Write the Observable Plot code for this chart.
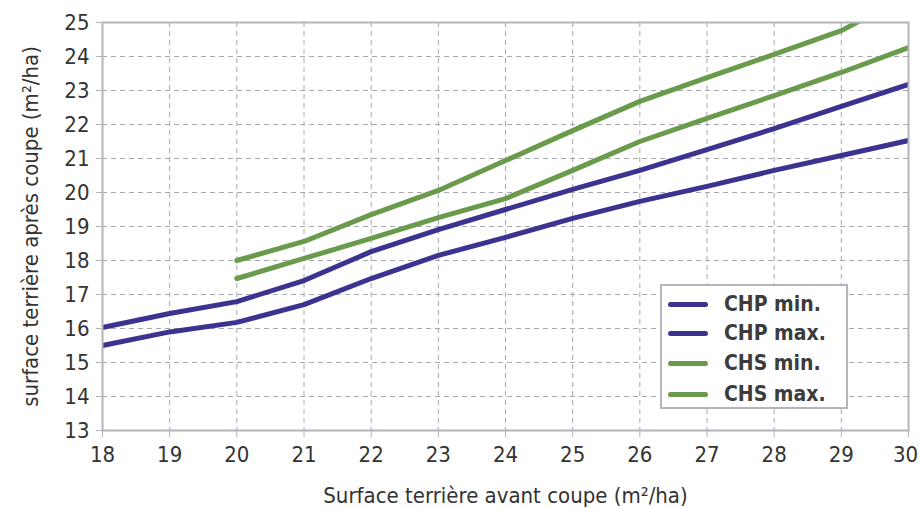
<!DOCTYPE html>
<html>
<head>
<meta charset="utf-8">
<script src="https://cdn.jsdelivr.net/npm/d3@7"></script>
<script src="https://cdn.jsdelivr.net/npm/@observablehq/plot@0.6"></script>
<style>
  html, body { margin: 0; padding: 0; background: #fff; }
  #wrap { position: relative; width: 919px; height: 508px; }
  #legend {
    position: absolute; left: 660px; top: 284px; width: 188px; height: 125px;
    border: 2px solid #b4b4bc; background: #fff; box-sizing: border-box;
    font-family: "DejaVu Sans Condensed", "Roboto", sans-serif;
    font-weight: bold; font-size: 21px; color: #3c3c3c;
  }
  .item { position: absolute; left: 6px; height: 24px; display: flex; align-items: center; }
  .sw { width: 40px; height: 5px; border-radius: 3px; margin-right: 16px; }
</style>
</head>
<body>
<div id="wrap"></div>
<script>
const xValues = [18, 19, 20, 21, 22, 23, 24, 25, 26, 27, 28, 29, 30];
const chpMin = [15.5, 15.9, 16.18, 16.7, 17.47, 18.15, 18.68, 19.24, 19.74, 20.18, 20.65, 21.09, 21.53];
const chpMax = [16.03, 16.44, 16.79, 17.41, 18.26, 18.91, 19.5, 20.09, 20.65, 21.26, 21.88, 22.53, 23.18];
const chsX = [20, 21, 22, 23, 24, 25, 26, 27, 28, 29, 30];
const chsMin = [17.47, 18.06, 18.65, 19.26, 19.82, 20.65, 21.5, 22.18, 22.85, 23.53, 24.26];
const chsMax = [18.0, 18.56, 19.35, 20.06, 20.94, 21.82, 22.68, 23.38, 24.06, 24.76, 25.8];
const seriesNames = ["CHP min.", "CHP max.", "CHS min.", "CHS max."];
const seriesColors = ["#3b338f", "#3b338f", "#6a9a4b", "#6a9a4b"];
const yTicks = [13, 14, 15, 16, 17, 18, 19, 20, 21, 22, 23, 24, 25];

const rows = [];
xValues.forEach((x, i) => {
  rows.push({x, y: chpMin[i], s: seriesNames[0]});
  rows.push({x, y: chpMax[i], s: seriesNames[1]});
});
chsX.forEach((x, i) => {
  rows.push({x, y: chsMin[i], s: seriesNames[2]});
  rows.push({x, y: chsMax[i], s: seriesNames[3]});
});

const font = '"DejaVu Sans Condensed", "Roboto", sans-serif';
const gridStyle = {stroke: "#a8a8b0", strokeOpacity: 1, strokeDasharray: "5,4", strokeWidth: 1};

const chart = Plot.plot({
  width: 919,
  height: 508,
  marginLeft: 102,
  marginRight: 11,
  marginTop: 22,
  marginBottom: 78,
  style: {fontFamily: font, fontSize: "20px", color: "#333", background: "#fff"},
  x: {domain: [18, 30], ticks: xValues, label: null},
  y: {domain: [13, 25], ticks: yTicks, label: null},
  color: {domain: seriesNames, range: seriesColors},
  marks: [
    Plot.gridX(xValues.slice(1, -1), gridStyle),
    Plot.gridY(yTicks.slice(1, -1), gridStyle),
    Plot.line(rows, {x: "x", y: "y", z: "s", stroke: "s", strokeWidth: 5, clip: true, strokeLinejoin: "round"}),
    Plot.frame({stroke: "#b4b4bc", strokeWidth: 2}),
    Plot.axisX({ticks: xValues, tickSize: 7, tickPadding: 9, stroke: "#b4b4bc", fill: "#333", fontSize: 20,
      label: "Surface terrière avant coupe (m²/ha)", labelAnchor: "center", labelArrow: "none", labelOffset: 72}),
    Plot.axisY({ticks: yTicks, tickSize: 6, tickPadding: 7, stroke: "#b4b4bc", fill: "#333", fontSize: 20,
      label: "surface terrière après coupe (m²/ha)", labelAnchor: "center", labelArrow: "none", labelOffset: 80})
  ]
});
const wrap = document.getElementById("wrap");
wrap.appendChild(chart);
chart.querySelectorAll("g[aria-label$='label'] text").forEach(t => t.setAttribute("font-size", "22"));
const xTickTexts = chart.querySelectorAll("g[aria-label='x-axis tick label'] text");
if (xTickTexts.length) {
  const last = xTickTexts[xTickTexts.length - 1];
  last.setAttribute("dx", "-3");
}

const legend = document.createElement("div");
legend.id = "legend";
const tops = [6, 35, 65, 96];
seriesNames.forEach((name, i) => {
  const it = document.createElement("div");
  it.className = "item";
  it.style.top = tops[i] + "px";
  const sw = document.createElement("div");
  sw.className = "sw";
  sw.style.background = seriesColors[i];
  const t = document.createElement("span");
  t.textContent = name;
  it.appendChild(sw); it.appendChild(t);
  legend.appendChild(it);
});
wrap.appendChild(legend);
</script>
</body>
</html>
